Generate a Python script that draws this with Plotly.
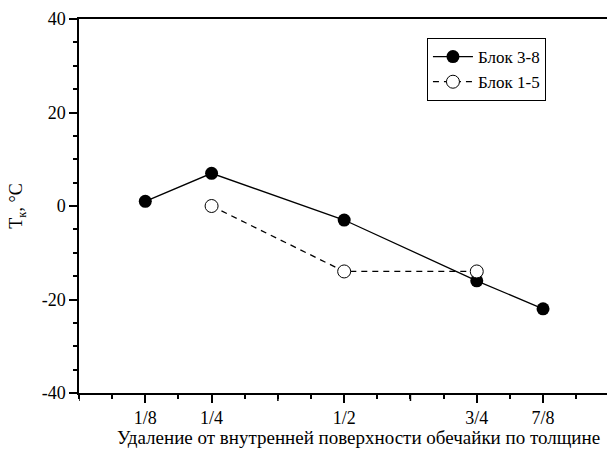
import plotly.graph_objects as go

# Distance from the inner shell surface (fraction of thickness)
x_labels = ["1/8", "1/4", "1/2", "3/4", "7/8"]
x_label_pos = [0.125, 0.25, 0.5, 0.75, 0.875]
x_unlabeled_major = [0, 0.375, 0.625]

x_pos_38 = [0.125, 0.25, 0.5, 0.75, 0.875]
t_38 = [1, 7, -3, -16, -22]

x_pos_15 = [0.25, 0.5, 0.75]
t_15 = [0, -14, -14]

y_tick_vals = [-40, -20, 0, 20, 40]
y_tick_text = ["-40", "-20", "0", "20", "40"]

x_title = "Удаление от внутренней поверхности обечайки по толщине"

FONT = "Times New Roman, Liberation Serif, serif"
X_RANGE = [0, 0.9956]

fig = go.Figure()
fig.add_trace(go.Scatter(
    x=x_pos_38, y=t_38, mode="lines+markers", name="Блок 3-8",
    line=dict(color="black", width=1.3),
    marker=dict(symbol="circle", size=13, color="black"),
))
fig.add_trace(go.Scatter(
    x=x_pos_15, y=t_15, mode="lines+markers", name="Блок 1-5",
    line=dict(color="black", width=1.3, dash="6px,5px"),
    marker=dict(symbol="circle", size=13, color="white",
                line=dict(width=1, color="black")),
))

# long unlabeled ticks at the remaining eighths
for xv in x_unlabeled_major:
    fig.add_shape(type="line", xref="x", yref="paper", ysizemode="pixel",
                  yanchor=0, x0=xv, x1=xv, y0=0, y1=-8,
                  line=dict(color="black", width=1.5))

# x-axis title, set slightly right of the plot centre
fig.add_annotation(text=x_title, xref="paper", yref="paper",
                   x=0.530, y=-0.118, xanchor="center", yanchor="middle",
                   showarrow=False, font=dict(family=FONT, size=19))

fig.update_layout(
    width=607, height=450,
    margin=dict(l=79, r=0, t=19, b=57),
    paper_bgcolor="white", plot_bgcolor="white",
    font=dict(family=FONT, size=18, color="black"),
    showlegend=True,
    legend=dict(
        x=0.659, y=0.949, xanchor="left", yanchor="top",
        bordercolor="black", borderwidth=1, bgcolor="white",
        font=dict(family=FONT, size=17, color="black"),
        itemwidth=40, tracegroupgap=0,
    ),
    xaxis=dict(
        range=X_RANGE, showgrid=False, zeroline=False,
        showline=True, linecolor="black", linewidth=1.5, mirror=True,
        tickmode="array", tickvals=x_label_pos, ticktext=x_labels,
        ticks="outside", ticklen=8, tickwidth=1.5, tickcolor="black",
        minor=dict(ticks="outside", ticklen=4, tickwidth=1.5,
                   tickcolor="black", dtick=0.0625, tick0=0),
        tickfont=dict(family=FONT, size=18),
    ),
    yaxis=dict(
        range=[-40, 40], showgrid=False, zeroline=False,
        showline=True, linecolor="black", linewidth=1.5,
        tickmode="array", tickvals=y_tick_vals, ticktext=y_tick_text,
        ticks="outside", ticklen=8, tickwidth=1.5, tickcolor="black",
        minor=dict(ticks="outside", ticklen=4, tickwidth=1.5,
                   tickcolor="black", dtick=5, tick0=0),
        tickfont=dict(family=FONT, size=18),
        title=dict(text="T<sub>к</sub>, °C", font=dict(family=FONT, size=18),
                   standoff=14),
    ),
)

fig.write_html("out.html")
